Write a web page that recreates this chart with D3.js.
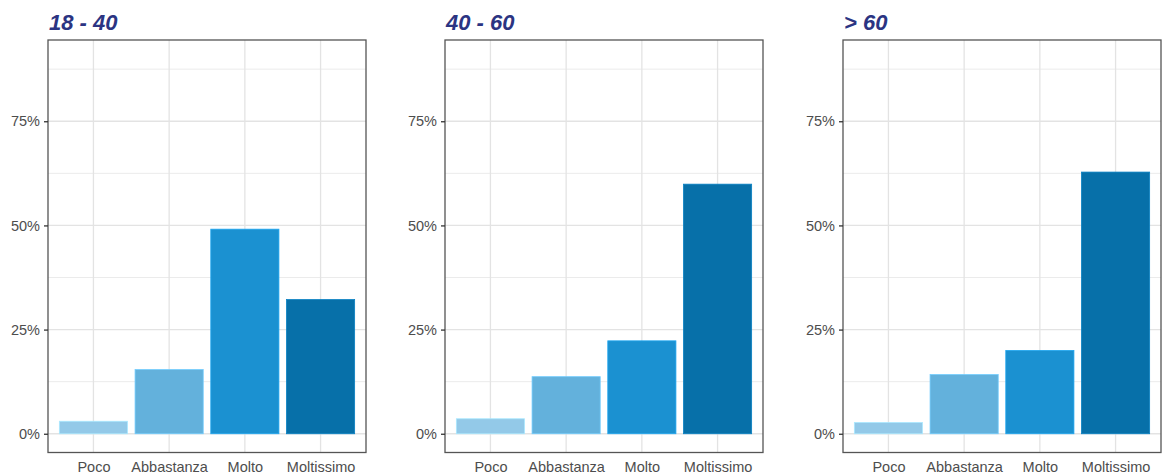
<!DOCTYPE html>
<html>
<head>
<meta charset="utf-8">
<script src="https://cdn.jsdelivr.net/npm/d3@7"></script>
<style>
  html, body { margin: 0; padding: 0; background: #fff; }
  svg { display: block; }
</style>
</head>
<body>
<svg id="chart" width="1162" height="476"></svg>
<script>
const categories = ["Poco", "Abbastanza", "Molto", "Moltissimo"];
const panelTitles = ["18 - 40", "40 - 60", "> 60"];
const values1840 = [0.030, 0.154, 0.491, 0.322];
const values4060 = [0.036, 0.137, 0.223, 0.599];
const valuesOver60 = [0.027, 0.142, 0.200, 0.628];
const yTicks = [0, 0.25, 0.5, 0.75];
const yMinor = [0.125, 0.375, 0.625, 0.875];
const barColors = ["#93c9e8", "#63b1dc", "#1b91d1", "#0770a9"];

const panelsData = [values1840, values4060, valuesOver60];

const svg = d3.select("#chart");
const panelLefts = [48, 445, 843];
const panelW = 318;
const panelTop = 40, panelBottom = 452.5;

const y = d3.scaleLinear().domain([-0.045, 0.945]).range([panelBottom, panelTop]);

panelsData.forEach((vals, i) => {
  const left = panelLefts[i];
  const g = svg.append("g");
  const xc = d3.scaleLinear().domain([0.4, 4.6]).range([left, left + panelW]);
  const bw = xc(1.45) - xc(0.55);

  g.selectAll(".minor").data(yMinor).enter().append("line")
    .attr("x1", left).attr("x2", left + panelW)
    .attr("y1", d => y(d)).attr("y2", d => y(d))
    .attr("stroke", "#ebebeb").attr("stroke-width", 1);
  g.selectAll(".major").data(yTicks).enter().append("line")
    .attr("x1", left).attr("x2", left + panelW)
    .attr("y1", d => y(d)).attr("y2", d => y(d))
    .attr("stroke", "#e3e3e3").attr("stroke-width", 1.3);
  g.selectAll(".vgrid").data(categories).enter().append("line")
    .attr("x1", (d, j) => xc(j + 1)).attr("x2", (d, j) => xc(j + 1))
    .attr("y1", panelTop).attr("y2", panelBottom)
    .attr("stroke", "#e3e3e3").attr("stroke-width", 1.3);

  g.selectAll(".bar").data(vals).enter().append("rect")
    .attr("x", (d, j) => xc(j + 1) - bw / 2)
    .attr("width", bw)
    .attr("y", d => y(d))
    .attr("height", d => y(0) - y(d))
    .attr("fill", (d, j) => barColors[j])
    .attr("stroke", (d, j) => d3.color(barColors[j]).brighter(0.4))
    .attr("stroke-width", 0.8);

  g.append("rect")
    .attr("x", left).attr("y", panelTop)
    .attr("width", panelW).attr("height", panelBottom - panelTop)
    .attr("fill", "none").attr("stroke", "#555").attr("stroke-width", 1.3);

  const yAxis = d3.axisLeft(y).tickValues(yTicks)
    .tickFormat(d3.format(".0%")).tickSize(4).tickPadding(4);
  const ya = g.append("g").attr("transform", `translate(${left},0)`).call(yAxis);
  ya.select(".domain").remove();
  ya.selectAll("line").attr("stroke", "#333").attr("stroke-width", 1.3);
  ya.selectAll("text").attr("fill", "#4d4d4d")
    .style("font-family", "'Liberation Sans', Arial, sans-serif")
    .style("font-size", "14.5px");

  const xAxis = d3.axisBottom(xc).tickValues([1, 2, 3, 4])
    .tickFormat(d => categories[d - 1]).tickSize(0).tickPadding(9);
  const xa = g.append("g").attr("transform", `translate(0,${panelBottom})`).call(xAxis);
  xa.select(".domain").remove();
  xa.selectAll("text").attr("fill", "#4d4d4d")
    .style("font-family", "'Liberation Sans', Arial, sans-serif")
    .style("font-size", "14.5px");

  svg.append("text")
    .attr("x", left + 1).attr("y", 30)
    .text(panelTitles[i])
    .attr("fill", "#2b3482")
    .style("font-family", "'Liberation Sans', Arial, sans-serif")
    .style("font-weight", "bold").style("font-style", "italic")
    .style("font-size", "22px");
});
</script>
</body>
</html>
